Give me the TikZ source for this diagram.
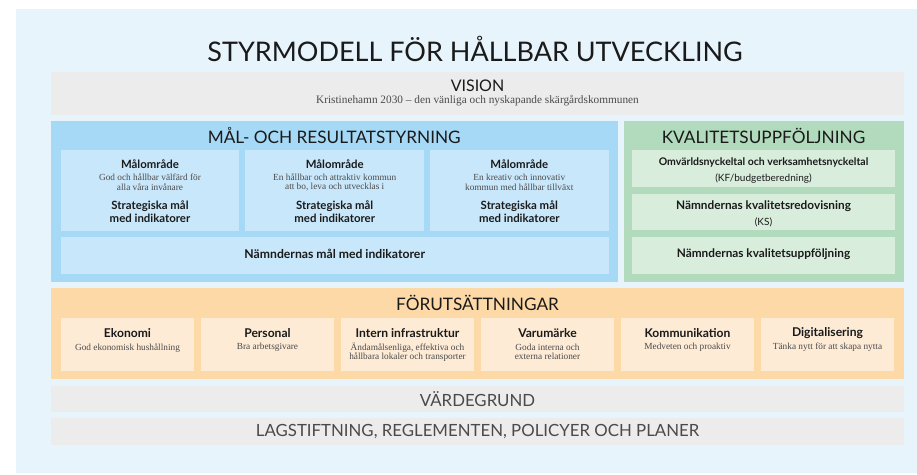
\documentclass[tikz,border=0pt]{standalone}
\usepackage{fontspec}
\setmainfont{Liberation Serif}
\newfontfamily\gs{Lato}
\definecolor{bgblue}{HTML}{E7F4FC}
\definecolor{visgray}{HTML}{ECECEC}
\definecolor{mblue}{HTML}{A6D9F5}
\definecolor{mbluein}{HTML}{C9E7FA}
\definecolor{kgreen}{HTML}{B2DBBE}
\definecolor{kgreenin}{HTML}{D9EDDD}
\definecolor{forange}{HTML}{FDD9A8}
\definecolor{forangein}{HTML}{FDEBD6}
\definecolor{txtdark}{HTML}{1A1A1A}
\definecolor{txtgray}{HTML}{4A4A4A}
\tikzset{
  lbl/.style={inner sep=0pt, anchor=center},
  maintitle/.style={lbl, font=\gs\fontsize{27}{30}\selectfont, text=txtdark},
  sectitle/.style={lbl, font=\gs\fontsize{17.2}{20}\selectfont, text=txtdark},
  bandtitle/.style={lbl, font=\gs\fontsize{16.8}{18}\selectfont, text=txtgray},
  boldlbl/.style={lbl, font=\gs\bfseries\fontsize{11.4}{13}\selectfont, text=txtdark},
  boldlblo/.style={lbl, font=\gs\bfseries\fontsize{12.1}{14}\selectfont, text=txtdark},
  sanslbl/.style={lbl, font=\gs\fontsize{10}{12}\selectfont, text=txtdark},
  serifsmall/.style={lbl, font=\fontsize{9.3}{11}\selectfont, text=txtgray},
}
\begin{document}
\begin{tikzpicture}[x=1pt,y=-1pt]
\useasboundingbox (0,0) rectangle (917,474);
% background
\fill[bgblue] (16,9) rectangle (917,473);
% title
\node[maintitle] (title) at (475,49) {STYRMODELL FÖR HÅLLBAR UTVECKLING};
% vision
\fill[visgray] (51,72) rectangle (904,115);
\node[bandtitle, font=\gs\fontsize{16}{18}\selectfont, text=txtdark] (vision) at (477.5,86) {VISION};
\node[serifsmall, font=\fontsize{11.3}{13}\selectfont] (visiontxt) at (477.5,100.5) {Kristinehamn 2030 – den vänliga och nyskapande skärgårdskommunen};
% mål- och resultatstyrning
\fill[mblue] (51,121) rectangle (617.5,282);
\node[sectitle] (maltitle) at (334.2,135.5) {MÅL- OCH RESULTATSTYRNING};
\fill[mbluein] (60.7,150) rectangle (239.3,231);
\fill[mbluein] (245.3,150) rectangle (424,231);
\fill[mbluein] (430,150) rectangle (608.7,231);
\fill[mbluein] (60.7,237) rectangle (608.7,274);
% box 1
\node[boldlbl] (m1a) at (150,164) {Målområde};
\node[serifsmall] (m1b) at (150,177.3) {God och hållbar välfärd för};
\node[serifsmall] (m1c) at (150,186.7) {alla våra invånare};
\node[boldlbl] (m1d) at (150,205.7) {Strategiska mål};
\node[boldlbl] (m1e) at (150,218.3) {med indikatorer};
% box 2
\node[boldlbl] (m2a) at (334.7,164) {Målområde};
\node[serifsmall] (m2b) at (334.7,177.3) {En hållbar och attraktiv kommun};
\node[serifsmall] (m2c) at (334.7,186.7) {att bo, leva och utvecklas i};
\node[boldlbl] (m2d) at (334.7,205.7) {Strategiska mål};
\node[boldlbl] (m2e) at (334.7,218.3) {med indikatorer};
% box 3
\node[boldlbl] (m3a) at (519.3,164) {Målområde};
\node[serifsmall] (m3b) at (519.3,177.3) {En kreativ och innovativ};
\node[serifsmall] (m3c) at (519.3,186.7) {kommun med hållbar tillväxt};
\node[boldlbl] (m3d) at (519.3,205.7) {Strategiska mål};
\node[boldlbl] (m3e) at (519.3,218.3) {med indikatorer};
\node[boldlbl, font=\gs\bfseries\fontsize{12.2}{14}\selectfont] (nmal) at (334.7,254) {Nämndernas mål med indikatorer};
% kvalitetsuppföljning
\fill[kgreen] (623.7,121) rectangle (903.7,282);
\node[sectitle] (kvtitle) at (763.5,135.5) {KVALITETSUPPFÖLJNING};
\fill[kgreenin] (632,150) rectangle (895,187);
\fill[kgreenin] (632,194) rectangle (895,230);
\fill[kgreenin] (632,237) rectangle (895,274);
\node[boldlbl, font=\gs\bfseries\fontsize{10.5}{12}\selectfont] (k1a) at (763.5,162.7) {Omvärldsnyckeltal och verksamhetsnyckeltal};
\node[sanslbl] (k1b) at (763.5,178.3) {(KF/budgetberedning)};
\node[boldlbl, font=\gs\bfseries\fontsize{11.8}{14}\selectfont] (k2a) at (763.5,205.7) {Nämndernas kvalitetsredovisning};
\node[sanslbl] (k2b) at (763.5,222.7) {(KS)};
\node[boldlbl, font=\gs\bfseries\fontsize{11.8}{14}\selectfont] (k3a) at (763.5,254) {Nämndernas kvalitetsuppföljning};
% förutsättningar
\fill[forange] (51,288) rectangle (904,379.3);
\node[sectitle] (fortitle) at (477.5,303) {FÖRUTSÄTTNINGAR};
\foreach \i in {0,...,5}{
  \fill[forangein] (60.7+140*\i,318) rectangle (194.3+140*\i,370.7);
}
\node[boldlblo] (f1a) at (127.5,333.3) {Ekonomi};
\node[serifsmall] (f1b) at (127.5,347.7) {God ekonomisk hushållning};
\node[boldlblo] (f2a) at (267.5,333.3) {Personal};
\node[serifsmall] (f2b) at (267.5,347.7) {Bra arbetsgivare};
\node[boldlblo] (f3a) at (407.5,333.3) {Intern infrastruktur};
\node[serifsmall] (f3b) at (407.5,347.7) {Ändamålsenliga, effektiva och};
\node[serifsmall] (f3c) at (407.5,356.7) {hållbara lokaler och transporter};
\node[boldlblo] (f4a) at (547.5,333.3) {Varumärke};
\node[serifsmall] (f4b) at (547.5,347.7) {Goda interna och};
\node[serifsmall] (f4c) at (547.5,356.7) {externa relationer};
\node[boldlblo] (f5a) at (687.5,333.3) {Kommunikation};
\node[serifsmall] (f5b) at (687.5,347.7) {Medveten och proaktiv};
\node[boldlblo] (f6a) at (827.5,333.3) {Digitalisering};
\node[serifsmall] (f6b) at (827.5,347.7) {Tänka nytt för att skapa nytta};
% värdegrund
\fill[visgray] (51,385.7) rectangle (904,412.3);
\node[bandtitle] (varde) at (477.5,399) {VÄRDEGRUND};
\fill[visgray] (51,417.7) rectangle (904,445);
\node[bandtitle] (lag) at (477.5,431.3) {LAGSTIFTNING, REGLEMENTEN, POLICYER OCH PLANER};
\end{tikzpicture}
\end{document}
